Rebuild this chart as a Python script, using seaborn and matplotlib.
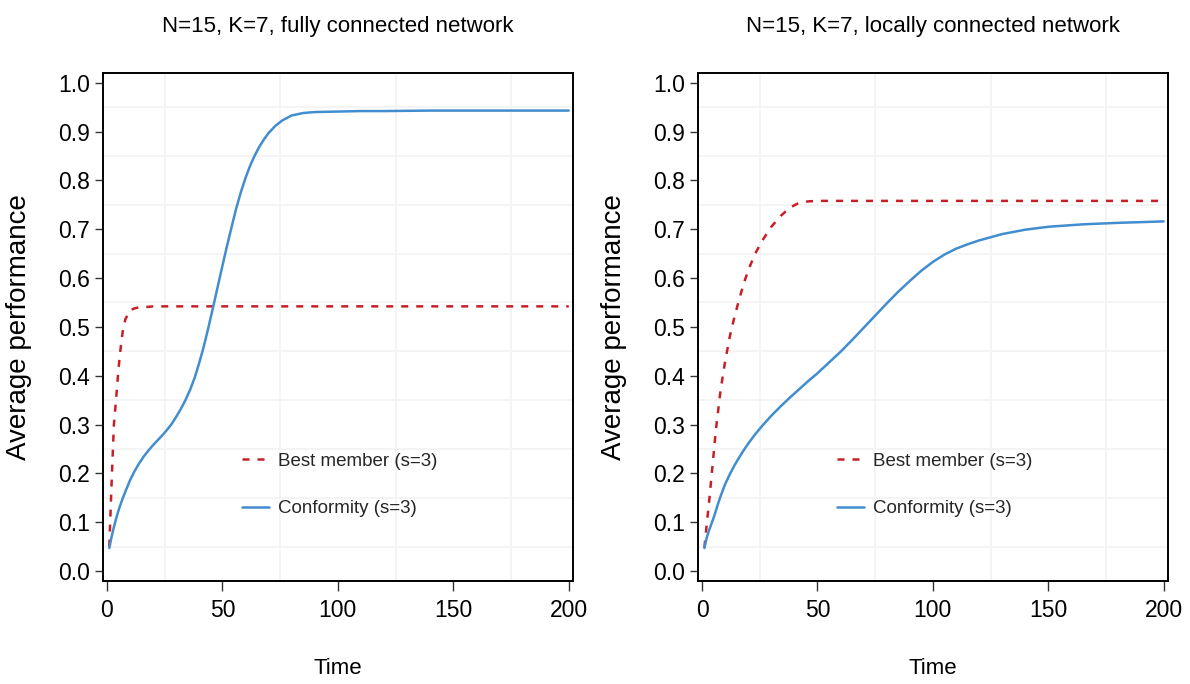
import numpy as np
import pandas as pd
import matplotlib
matplotlib.use("Agg")
import matplotlib.pyplot as plt
import seaborn as sns
from matplotlib import font_manager
from matplotlib.ticker import FixedLocator

# Simulation output: average performance over time, fully connected network
time_full = [1, 2, 3, 4, 5, 6, 7, 8, 10, 12, 14, 16, 18, 20, 22, 24, 26, 28, 30,
             32, 34, 36, 38, 40, 42, 44, 46, 48, 50, 52, 54, 56, 58, 60, 62, 64,
             66, 68, 70, 73, 76, 80, 85, 90, 100, 110, 120, 140, 160, 180, 200]

best_full = [0.050, 0.180, 0.300, 0.355, 0.415, 0.460, 0.497, 0.516, 0.534, 0.538,
             0.540, 0.541, 0.541, 0.542, 0.542, 0.542, 0.542, 0.542, 0.542,
             0.542, 0.542, 0.542, 0.542, 0.542, 0.542, 0.542, 0.542, 0.542, 0.542,
             0.542, 0.542, 0.542, 0.542, 0.542, 0.542, 0.542, 0.542, 0.542, 0.542,
             0.542, 0.542, 0.542, 0.542, 0.542, 0.542, 0.542, 0.542, 0.542, 0.542,
             0.542, 0.542]

conf_full = [0.047, 0.070, 0.090, 0.108, 0.124, 0.138, 0.151, 0.163, 0.186, 0.205,
             0.221, 0.235, 0.247, 0.258, 0.268, 0.278, 0.289, 0.301, 0.316,
             0.332, 0.350, 0.371, 0.396, 0.427, 0.461, 0.500, 0.541, 0.583, 0.625,
             0.666, 0.705, 0.743, 0.776, 0.805, 0.830, 0.851, 0.869, 0.884, 0.897,
             0.912, 0.923, 0.933, 0.938, 0.940, 0.941, 0.942, 0.942, 0.943, 0.943,
             0.943, 0.943]

# Simulation output: average performance over time, locally connected network
time_local = [1, 2, 3, 4, 5, 6, 7, 8, 10, 12, 14, 16, 18, 20, 23, 26, 30, 34, 38,
              42, 46, 50, 55, 60, 65, 70, 75, 80, 85, 90, 95, 100, 105, 110, 115,
              120, 130, 140, 150, 165, 180, 200]

best_local = [0.048, 0.095, 0.140, 0.190, 0.240, 0.290, 0.330, 0.370, 0.430, 0.480,
              0.520, 0.555, 0.588, 0.616, 0.650, 0.676, 0.705, 0.727, 0.744,
              0.754, 0.757, 0.758, 0.758, 0.758, 0.758, 0.758, 0.758, 0.758, 0.758,
              0.758, 0.758, 0.758, 0.758, 0.758, 0.758, 0.758, 0.758, 0.758, 0.758,
              0.758, 0.758, 0.758]

conf_local = [0.047, 0.068, 0.083, 0.096, 0.109, 0.124, 0.139, 0.153, 0.178, 0.198,
              0.216, 0.232, 0.247, 0.261, 0.280, 0.297, 0.318, 0.337, 0.355,
              0.372, 0.389, 0.405, 0.427, 0.449, 0.473, 0.498, 0.523, 0.548, 0.572,
              0.594, 0.615, 0.633, 0.648, 0.660, 0.669, 0.677, 0.690, 0.699, 0.705,
              0.710, 0.713, 0.716]

titles = ["N=15, K=7, fully connected network",
          "N=15, K=7, locally connected network"]
series_labels = ["Best member (s=3)", "Conformity (s=3)"]
x_ticks = [0, 50, 100, 150, 200]
y_ticks = [0.0, 0.1, 0.2, 0.3, 0.4, 0.5, 0.6, 0.7, 0.8, 0.9, 1.0]

RED = "#c81e28"
BLUE = "#418dcf"
GRID = "#f3f3f3"

sns.set_theme(style="white")
plt.rcParams["font.family"] = ["Liberation Sans", "DejaVu Sans"]

# Prefer a condensed face for the horizontal texts when one is installed
installed = {f.name for f in font_manager.fontManager.ttflist}
if "Liberation Sans Narrow" in installed:
    narrow = ["Liberation Sans Narrow", "Liberation Sans", "DejaVu Sans"]
    size_tick, size_title, size_legend, size_xlabel = 18.5, 19.4, 16.2, 19
    legend_spacing = 1.17
else:
    narrow = ["Liberation Sans", "DejaVu Sans"]
    size_tick, size_title, size_legend, size_xlabel = 16.5, 16, 13.5, 16
    legend_spacing = 1.63

fig = plt.figure(figsize=(11.9, 6.84), dpi=100)
ax_left = fig.add_axes([0.0866, 0.1506, 0.3950, 0.7422])
ax_right = fig.add_axes([0.5867, 0.1506, 0.3948, 0.7422])

panels = [(ax_left, time_full, best_full, conf_full, titles[0]),
          (ax_right, time_local, best_local, conf_local, titles[1])]

for ax, time, best, conf, title in panels:
    n = len(time)
    df = pd.DataFrame({
        "Time": time + time,
        "value": best + conf,
        "series": [series_labels[0]] * n + [series_labels[1]] * n,
    })
    sns.lineplot(data=df, x="Time", y="value", hue="series", style="series",
                 palette=[RED, BLUE], dashes=[(2.8, 3.2), ""],
                 linewidth=1.8, ax=ax)

    ax.set_xlim(-1.7, 201.9)
    ax.set_ylim(-0.0205, 1.0193)
    ax.xaxis.set_major_locator(FixedLocator(x_ticks))
    ax.yaxis.set_major_locator(FixedLocator(y_ticks))
    ax.set_xticklabels([str(v) for v in x_ticks], family=narrow)
    ax.set_yticklabels([f"{v:.1f}" for v in y_ticks], family=narrow)
    ax.xaxis.set_minor_locator(FixedLocator([25, 75, 125, 175]))
    ax.yaxis.set_minor_locator(FixedLocator(np.arange(0.05, 1.0, 0.1)))
    ax.grid(False)
    ax.grid(which="minor", color=GRID, linewidth=1.3)
    ax.set_axisbelow(True)

    ax.tick_params(axis="x", which="major", length=7, width=1.0, color="#333333",
                   pad=6, labelsize=size_tick, labelcolor="black", bottom=True)
    ax.tick_params(axis="y", which="major", length=5.5, width=1.0, color="#333333",
                   pad=4, labelsize=size_tick, labelcolor="black", left=True)
    ax.tick_params(which="minor", length=0)

    for sp in ax.spines.values():
        sp.set_visible(True)
        sp.set_color("black")
        sp.set_linewidth(1.4)

    ax.set_xlabel("Time", fontsize=size_xlabel, labelpad=26, color="black",
                  family=narrow)
    ax.set_ylabel("Average performance", fontsize=20, labelpad=19, color="black")
    ax.set_title(title, fontsize=size_title, pad=30, color="black", family=narrow)

    handles, labels = ax.get_legend_handles_labels()
    ax.legend(handles, labels, loc="center left", bbox_to_anchor=(0.296, 0.189),
              frameon=False, prop={"family": narrow, "size": size_legend},
              handlelength=1.45, handletextpad=0.45,
              labelspacing=legend_spacing, borderpad=0, borderaxespad=0)

fig.savefig("out.png", dpi=100)
